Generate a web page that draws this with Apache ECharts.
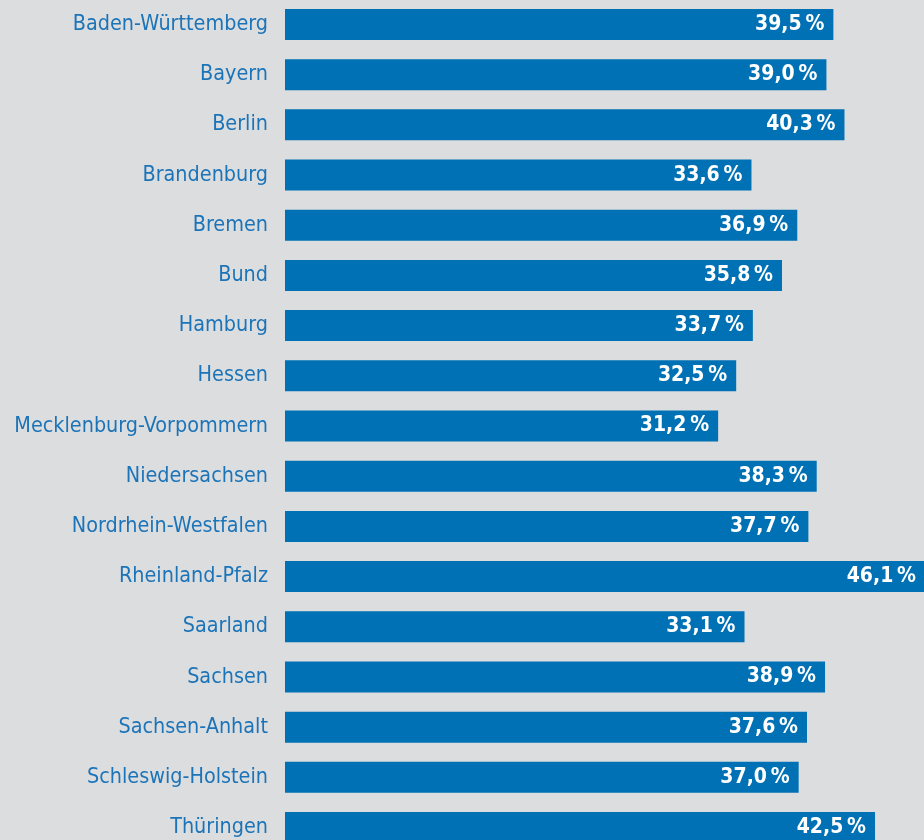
<!DOCTYPE html>
<html>
<head>
<meta charset="utf-8">
<script src="https://cdn.jsdelivr.net/npm/echarts@6/dist/echarts.min.js"></script>
<style>
  html, body { margin: 0; padding: 0; background: #dcdddf; }
  #chart { width: 924px; height: 840px; }
</style>
</head>
<body>
<div id="chart"></div>
<script>
const laender = [
  'Baden-Württemberg', 'Bayern', 'Berlin', 'Brandenburg', 'Bremen', 'Bund',
  'Hamburg', 'Hessen', 'Mecklenburg-Vorpommern', 'Niedersachsen',
  'Nordrhein-Westfalen', 'Rheinland-Pfalz', 'Saarland', 'Sachsen',
  'Sachsen-Anhalt', 'Schleswig-Holstein', 'Thüringen'
];
const anteile = [39.5, 39.0, 40.3, 33.6, 36.9, 35.8, 33.7, 32.5, 31.2, 38.3, 37.7, 46.1, 33.1, 38.9, 37.6, 37.0, 42.5];

const chart = echarts.init(document.getElementById('chart'));

const option = {
  backgroundColor: '#dcdddf',
  animation: false,
  grid: {
    left: 285,
    right: -1,
    top: -0.6,
    height: 853.2,
    outerBoundsMode: 'none'
  },
  xAxis: {
    type: 'value',
    min: 0,
    max: Math.max(...anteile),
    show: false
  },
  yAxis: {
    type: 'category',
    data: laender,
    inverse: true,
    axisLine: { show: false },
    axisTick: { show: false },
    axisLabel: {
      color: '#1c74b8',
      fontFamily: 'DejaVu Sans Condensed',
      fontSize: 21.4,
      margin: 17
    }
  },
  series: [
    {
      type: 'bar',
      data: anteile,
      barWidth: 31,
      itemStyle: { color: '#0071b5' },
      label: {
        show: true,
        position: 'insideRight',
        distance: 9,
        color: '#ffffff',
        fontFamily: 'DejaVu Sans Condensed',
        fontWeight: 'bold',
        fontSize: 21,
        formatter: p => p.value.toFixed(1).replace('.', ',') + '\u2009%'
      }
    }
  ]
};

chart.setOption(option);
window.addEventListener('resize', () => chart.resize());
</script>
</body>
</html>
